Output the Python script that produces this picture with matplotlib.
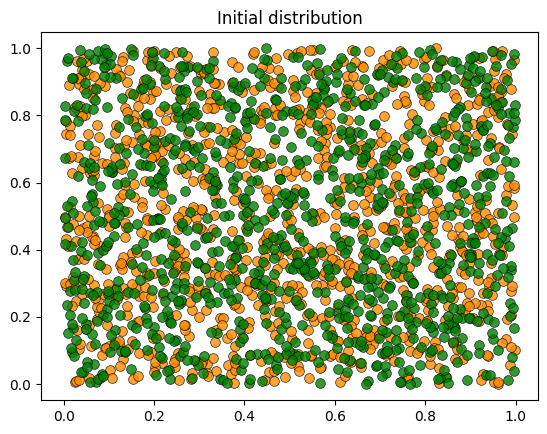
import numpy as np
import matplotlib.pyplot as plt

# Agent locations: about 1000 of each type, scattered uniformly over the unit square.
# The ~2000 individual positions can't be read off the picture, so a seeded
# uniform draw stands in for them (same count, same spread, same look).
n_type_0 = 1000
n_type_1 = 1000
rng = np.random.default_rng(7)
x_type_0, y_type_0 = rng.uniform(0, 1, (2, n_type_0))
x_type_1, y_type_1 = rng.uniform(0, 1, (2, n_type_1))

fig = plt.figure(figsize=(5.47, 4.34), dpi=100)
ax = fig.add_axes([0.075, 0.078, 0.909, 0.848])

plot_args = {'markersize': 7, 'alpha': 0.8, 'markeredgecolor': 'black',
             'markeredgewidth': 0.5, 'linestyle': 'none'}
ax.plot(x_type_0, y_type_0, 'o', markerfacecolor='darkorange', **plot_args)
ax.plot(x_type_1, y_type_1, 'o', markerfacecolor='green', **plot_args)

ax.set_xlim(-0.05, 1.05)
ax.set_ylim(-0.048, 1.048)
ax.set_xticks(np.arange(0, 1.01, 0.2))
ax.set_yticks(np.arange(0, 1.01, 0.2))
ax.set_title('Initial distribution')

fig.savefig('out.png', dpi=100)
